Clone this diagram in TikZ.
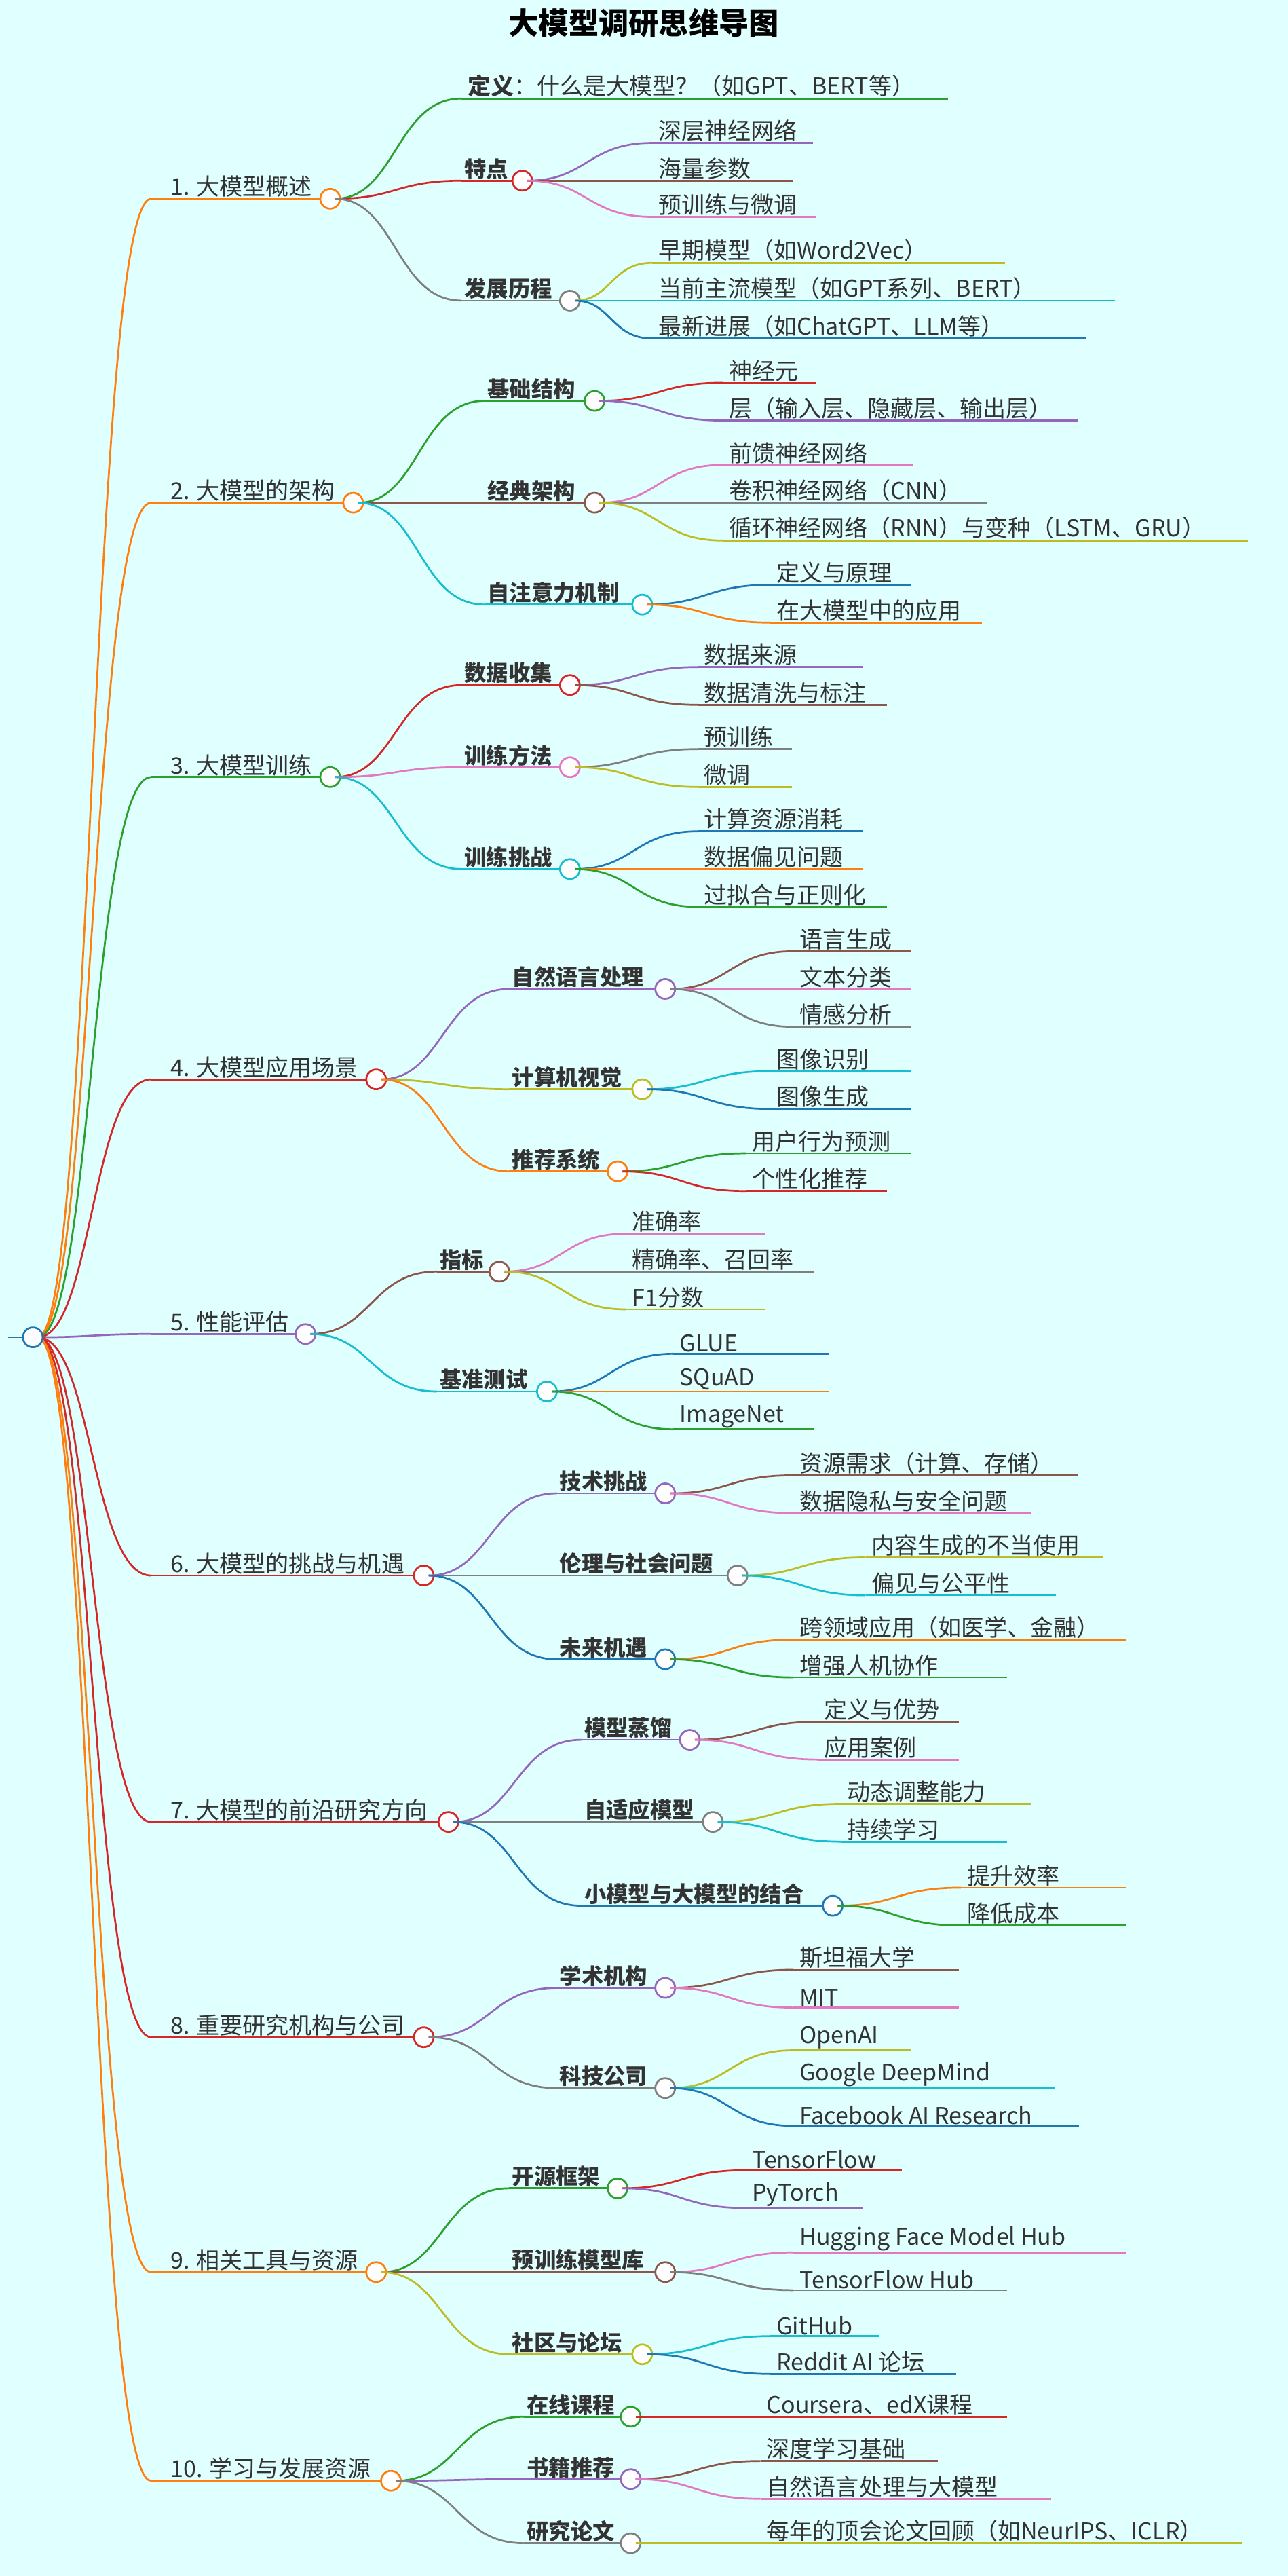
\documentclass[tikz,border=0pt]{standalone}
\usepackage{fontspec}
\setmainfont{Noto Sans CJK SC}
\definecolor{bgcyan}{HTML}{E0FFFF}
\definecolor{cOrange}{HTML}{FF7F0E}
\definecolor{cGreen}{HTML}{2CA02C}
\definecolor{cRed}{HTML}{D62728}
\definecolor{cPurple}{HTML}{9467BD}
\definecolor{cBrown}{HTML}{8C564B}
\definecolor{cPink}{HTML}{E377C2}
\definecolor{cGray}{HTML}{7F7F7F}
\definecolor{cOlive}{HTML}{BCBD22}
\definecolor{cCyan}{HTML}{17BECF}
\definecolor{cBlue}{HTML}{1F77B4}
\definecolor{txt}{HTML}{333333}
\tikzset{
  mmline/.style={line width=1.6pt},
  mmcirc/.style={circle,fill=white,line width=1.6pt,minimum size=6mm,inner sep=0pt},
  toptext/.style={anchor=south west,inner sep=1pt,text=txt,font=\fontsize{20}{22}\selectfont},
  subtext/.style={anchor=south west,inner sep=1pt,text=txt,font=\fontsize{19}{21}\selectfont\bfseries},
  leaftext/.style={anchor=south west,inner sep=1pt,text=txt,font=\fontsize{20}{22}\selectfont},
}
% curve from a parent circle to the start of a child line
\newcommand\mmcurve[5]{\draw[mmline,#1] (#2+3,-#3) .. controls ({(#2+#4)/2},-#3) and ({(#2+#4)/2},-#5) .. (#4,-#5);}
% topic: color, parent x, parent y, text x, y, circle x, text
\newcommand\mmtop[7]{\mmcurve{#1}{#2}{#3}{#4-11}{#5}
  \draw[mmline,#1] (#4-11,-#5) -- (#6-3,-#5);
  \node[toptext] at (#4,-#5) {#7};
  \node[mmcirc,draw=#1] at (#6,-#5) {};}
\newcommand\mmsub[7]{\mmcurve{#1}{#2}{#3}{#4-1}{#5}
  \draw[mmline,#1] (#4-1,-#5) -- (#6-3,-#5);
  \node[subtext] at (#4,-#5) {#7};
  \node[mmcirc,draw=#1] at (#6,-#5) {};}
% leaf: color, parent x, parent y, text x, y, line end x, text
\newcommand\mmleaf[7]{\mmcurve{#1}{#2}{#3}{#4-3}{#5}
  \draw[mmline,#1] (#4-3,-#5) -- (#6,-#5);
  \node[leaftext] at (#4,-#5) {#7};}
\begin{document}
\begin{tikzpicture}[x=0.5mm,y=0.5mm]
\fill[bgcyan] (0,0) rectangle (784,-1568);
\useasboundingbox (0,0) rectangle (784,-1568);
\node[font=\fontsize{26}{28}\selectfont\bfseries] (title) at (392,-14) {大模型调研思维导图};
%Root
\draw[mmline,cBlue] (5,-814) -- (17,-814);
%1
\mmtop{cOrange}{20}{814}{103}{121}{201}{1. 大模型概述}
\mmleaf{cGreen}{201}{121}{284}{60}{577}{\textbf{定义}：什么是大模型？（如GPT、BERT等）}
\mmsub{cRed}{201}{121}{282}{110}{318}{特点}
\mmleaf{cPurple}{318}{110}{400}{87}{495}{深层神经网络}
\mmleaf{cBrown}{318}{110}{400}{110}{483}{海量参数}
\mmleaf{cPink}{318}{110}{400}{132}{497}{预训练与微调}
\mmsub{cGray}{201}{121}{282}{183}{347}{发展历程}
\mmleaf{cOlive}{347}{183}{400}{160}{612}{早期模型（如Word2Vec）}
\mmleaf{cCyan}{347}{183}{400}{183}{679}{当前主流模型（如GPT系列、BERT）}
\mmleaf{cBlue}{347}{183}{400}{206}{661}{最新进展（如ChatGPT、LLM等）}
%2
\mmtop{cOrange}{20}{814}{103}{306}{215}{2. 大模型的架构}
\mmsub{cGreen}{215}{306}{296}{244}{362}{基础结构}
\mmleaf{cRed}{362}{244}{443}{233}{497}{神经元}
\mmleaf{cPurple}{362}{244}{443}{256}{656}{层（输入层、隐藏层、输出层）}
\mmsub{cBrown}{215}{306}{296}{306}{362}{经典架构}
\mmleaf{cPink}{362}{306}{443}{283}{556}{前馈神经网络}
\mmleaf{cGray}{362}{306}{443}{306}{601}{卷积神经网络（CNN）}
\mmleaf{cOlive}{362}{306}{443}{329}{760}{循环神经网络（RNN）与变种（LSTM、GRU）}
\mmsub{cCyan}{215}{306}{296}{368}{391}{自注意力机制}
\mmleaf{cBlue}{391}{368}{472}{356}{555}{定义与原理}
\mmleaf{cOrange}{391}{368}{472}{379}{598}{在大模型中的应用}
%3
\mmtop{cGreen}{20}{814}{103}{473}{201}{3. 大模型训练}
\mmsub{cRed}{201}{473}{282}{417}{347}{数据收集}
\mmleaf{cPurple}{347}{417}{428}{406}{525}{数据来源}
\mmleaf{cBrown}{347}{417}{428}{429}{540}{数据清洗与标注}
\mmsub{cPink}{201}{473}{282}{467}{347}{训练方法}
\mmleaf{cGray}{347}{467}{428}{456}{482}{预训练}
\mmleaf{cOlive}{347}{467}{428}{479}{482}{微调}
\mmsub{cCyan}{201}{473}{282}{529}{347}{训练挑战}
\mmleaf{cBlue}{347}{529}{428}{506}{525}{计算资源消耗}
\mmleaf{cOrange}{347}{529}{428}{529}{525}{数据偏见问题}
\mmleaf{cGreen}{347}{529}{428}{552}{540}{过拟合与正则化}
%4
\mmtop{cRed}{20}{814}{103}{657}{229}{4. 大模型应用场景}
\mmsub{cPurple}{229}{657}{311}{602}{405}{自然语言处理}
\mmleaf{cBrown}{405}{602}{486}{579}{555}{语言生成}
\mmleaf{cPink}{405}{602}{486}{602}{555}{文本分类}
\mmleaf{cGray}{405}{602}{486}{625}{555}{情感分析}
\mmsub{cOlive}{229}{657}{311}{663}{391}{计算机视觉}
\mmleaf{cCyan}{391}{663}{472}{652}{555}{图像识别}
\mmleaf{cBlue}{391}{663}{472}{675}{555}{图像生成}
\mmsub{cOrange}{229}{657}{311}{713}{376}{推荐系统}
\mmleaf{cGreen}{376}{713}{457}{702}{555}{用户行为预测}
\mmleaf{cRed}{376}{713}{457}{725}{540}{个性化推荐}
%5
\mmtop{cPurple}{20}{814}{103}{812}{186}{5. 性能评估}
\mmsub{cBrown}{186}{812}{267}{774}{304}{指标}
\mmleaf{cPink}{304}{774}{384}{751}{466}{准确率}
\mmleaf{cGray}{304}{774}{384}{774}{496}{精确率、召回率}
\mmleaf{cOlive}{304}{774}{384}{797}{466}{F1分数}
\mmsub{cCyan}{186}{812}{267}{847}{333}{基准测试}
\mmleaf{cBlue}{333}{847}{413}{824}{505}{GLUE}
\mmleaf{cOrange}{333}{847}{413}{847}{505}{SQuAD}
\mmleaf{cGreen}{333}{847}{413}{870}{496}{ImageNet}
%6
\mmtop{cRed}{20}{814}{103}{959}{258}{6. 大模型的挑战与机遇}
\mmsub{cPurple}{258}{959}{340}{909}{405}{技术挑战}
\mmleaf{cBrown}{405}{909}{486}{898}{656}{资源需求（计算、存储）}
\mmleaf{cPink}{405}{909}{486}{921}{628}{数据隐私与安全问题}
\mmsub{cGray}{258}{959}{340}{959}{449}{伦理与社会问题}
\mmleaf{cOlive}{449}{959}{530}{948}{672}{内容生成的不当使用}
\mmleaf{cCyan}{449}{959}{530}{971}{643}{偏见与公平性}
\mmsub{cBlue}{258}{959}{340}{1010}{405}{未来机遇}
\mmleaf{cOrange}{405}{1010}{486}{998}{686}{跨领域应用（如医学、金融）}
\mmleaf{cGreen}{405}{1010}{486}{1021}{613}{增强人机协作}
%7
\mmtop{cRed}{20}{814}{103}{1109}{273}{7. 大模型的前沿研究方向}
\mmsub{cPurple}{273}{1109}{355}{1059}{420}{模型蒸馏}
\mmleaf{cBrown}{420}{1059}{501}{1048}{584}{定义与优势}
\mmleaf{cPink}{420}{1059}{501}{1071}{584}{应用案例}
\mmsub{cGray}{273}{1109}{355}{1109}{434}{自适应模型}
\mmleaf{cOlive}{434}{1109}{515}{1098}{628}{动态调整能力}
\mmleaf{cCyan}{434}{1109}{515}{1121}{613}{持续学习}
\mmsub{cBlue}{273}{1109}{355}{1160}{507}{小模型与大模型的结合}
\mmleaf{cOrange}{507}{1160}{588}{1149}{686}{提升效率}
\mmleaf{cGreen}{507}{1160}{588}{1172}{686}{降低成本}
%8
\mmtop{cRed}{20}{814}{103}{1240}{258}{8. 重要研究机构与公司}
\mmsub{cPurple}{258}{1240}{340}{1210}{405}{学术机构}
\mmleaf{cBrown}{405}{1210}{486}{1199}{584}{斯坦福大学}
\mmleaf{cPink}{405}{1210}{486}{1222}{584}{MIT}
\mmsub{cGray}{258}{1240}{340}{1271}{405}{科技公司}
\mmleaf{cOlive}{405}{1271}{486}{1248}{555}{OpenAI}
\mmleaf{cCyan}{405}{1271}{486}{1271}{642}{Google DeepMind}
\mmleaf{cBlue}{405}{1271}{486}{1294}{657}{Facebook AI Research}
%9
\mmtop{cOrange}{20}{814}{103}{1383}{229}{9. 相关工具与资源}
\mmsub{cGreen}{229}{1383}{311}{1332}{376}{开源框架}
\mmleaf{cRed}{376}{1332}{457}{1321}{549}{TensorFlow}
\mmleaf{cPurple}{376}{1332}{457}{1344}{525}{PyTorch}
\mmsub{cBrown}{229}{1383}{311}{1383}{405}{预训练模型库}
\mmleaf{cPink}{405}{1383}{486}{1371}{686}{Hugging Face Model Hub}
\mmleaf{cGray}{405}{1383}{486}{1394}{613}{TensorFlow Hub}
\mmsub{cOlive}{229}{1383}{311}{1433}{391}{社区与论坛}
\mmleaf{cCyan}{391}{1433}{472}{1422}{535}{GitHub}
\mmleaf{cBlue}{391}{1433}{472}{1445}{582}{Reddit AI 论坛}
%10
\mmtop{cOrange}{20}{814}{103}{1510}{238}{10. 学习与发展资源}
\mmsub{cGreen}{238}{1510}{320}{1471}{384}{在线课程}
\mmleaf{cRed}{384}{1471}{466}{1471}{613}{Coursera、edX课程}
\mmsub{cPurple}{238}{1510}{320}{1509}{384}{书籍推荐}
\mmleaf{cBrown}{384}{1509}{466}{1498}{571}{深度学习基础}
\mmleaf{cPink}{384}{1509}{466}{1521}{640}{自然语言处理与大模型}
\mmsub{cGray}{238}{1510}{320}{1548}{384}{研究论文}
\mmleaf{cOlive}{384}{1548}{466}{1548}{756}{每年的顶会论文回顾（如NeurIPS、ICLR）}
%Root circle on top
\node[mmcirc,draw=cBlue] (root) at (20,-814) {};
\end{tikzpicture}
\end{document}
